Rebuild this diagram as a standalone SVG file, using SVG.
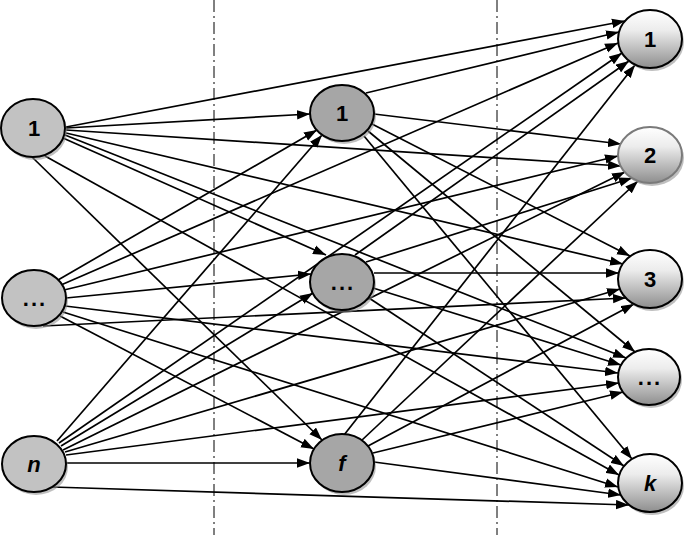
<svg xmlns="http://www.w3.org/2000/svg" width="687" height="535" viewBox="0 0 687 535">
<style>
.guide{stroke:#000;stroke-width:1;stroke-dasharray:12 4 2 4;fill:none}
.edge{stroke:#000;stroke-width:1.7;fill:none;marker-end:url(#ah)}
.sh{fill:#8a8a8a;opacity:0.55}
.in{fill:#c2c2c2;stroke:#000;stroke-width:2}
.hid{fill:#a6a6a6;stroke:#000;stroke-width:2}
.out{fill:url(#og);stroke:#000;stroke-width:2}
.lbl{font-family:"Liberation Sans",Arial,sans-serif;font-weight:bold;font-size:22px;text-anchor:middle;fill:#000}
.dots{letter-spacing:2px}
.it{font-style:italic}
</style>
<defs>
<marker id="ah" markerUnits="userSpaceOnUse" markerWidth="14" markerHeight="10" refX="13" refY="5" orient="auto">
<path d="M0,0.3 L13,5 L0,9.7 z" fill="#000"/>
</marker>
<linearGradient id="og" x1="0" y1="0" x2="0" y2="1">
<stop offset="0" stop-color="#ffffff"/>
<stop offset="0.35" stop-color="#ececec"/>
<stop offset="1" stop-color="#8e8e8e"/>
</linearGradient>
</defs>
<rect width="687" height="535" fill="#fff"/>
<g id="guides">
<line class="guide" x1="214" y1="0" x2="214" y2="535"/>
<line class="guide" x1="497" y1="0" x2="497" y2="535"/>
</g>
<g id="connectors">
<line class="edge" x1="66" y1="127" x2="625" y2="21"/>
<line class="edge" x1="66" y1="128" x2="310" y2="114"/>
<line class="edge" x1="66" y1="130" x2="621" y2="166"/>
<line class="edge" x1="66" y1="133" x2="623" y2="264"/>
<line class="edge" x1="65" y1="135" x2="626" y2="358"/>
<line class="edge" x1="63" y1="138" x2="326" y2="255"/>
<line class="edge" x1="45" y1="156" x2="619" y2="475"/>
<line class="edge" x1="32" y1="157" x2="322" y2="440"/>
<line class="edge" x1="58" y1="280" x2="317" y2="130"/>
<line class="edge" x1="61" y1="285" x2="618" y2="43"/>
<line class="edge" x1="64" y1="290" x2="618" y2="156"/>
<line class="edge" x1="66" y1="298" x2="311" y2="274"/>
<line class="edge" x1="65" y1="306" x2="618" y2="373"/>
<line class="edge" x1="63" y1="312" x2="618" y2="487"/>
<line class="edge" x1="60" y1="316" x2="314" y2="449"/>
<line class="edge" x1="43" y1="326" x2="626" y2="298"/>
<line class="edge" x1="57" y1="441" x2="322" y2="135"/>
<line class="edge" x1="59" y1="443" x2="622" y2="53"/>
<line class="edge" x1="61" y1="446" x2="313" y2="293"/>
<line class="edge" x1="63" y1="450" x2="625" y2="172"/>
<line class="edge" x1="65" y1="452" x2="620" y2="289"/>
<line class="edge" x1="66" y1="455" x2="619" y2="383"/>
<line class="edge" x1="66" y1="463" x2="310" y2="463"/>
<line class="edge" x1="52" y1="487" x2="629" y2="505"/>
<line class="edge" x1="366" y1="93" x2="619" y2="32"/>
<line class="edge" x1="374" y1="114" x2="621" y2="144"/>
<line class="edge" x1="372" y1="124" x2="630" y2="256"/>
<line class="edge" x1="368" y1="131" x2="635" y2="352"/>
<line class="edge" x1="364" y1="136" x2="632" y2="459"/>
<line class="edge" x1="355" y1="255" x2="629" y2="61"/>
<line class="edge" x1="366" y1="262" x2="632" y2="178"/>
<line class="edge" x1="374" y1="273" x2="619" y2="273"/>
<line class="edge" x1="373" y1="288" x2="621" y2="365"/>
<line class="edge" x1="369" y1="298" x2="624" y2="466"/>
<line class="edge" x1="344" y1="435" x2="635" y2="65"/>
<line class="edge" x1="361" y1="441" x2="638" y2="181"/>
<line class="edge" x1="368" y1="446" x2="634" y2="304"/>
<line class="edge" x1="373" y1="453" x2="623" y2="392"/>
<line class="edge" x1="374" y1="462" x2="621" y2="495"/>
</g>
<g id="in1"><ellipse class="sh" cx="35" cy="131" rx="32" ry="29"/><ellipse class="in" cx="33" cy="128" rx="32" ry="29"/><text class="lbl" x="34" y="136">1</text></g>
<g id="in2"><ellipse class="sh" cx="36" cy="301" rx="32" ry="28"/><ellipse class="in" cx="34" cy="298" rx="32" ry="28"/><text class="lbl dots" x="35" y="306">...</text></g>
<g id="in3"><ellipse class="sh" cx="36" cy="467" rx="32" ry="28"/><ellipse class="in" cx="34" cy="464" rx="32" ry="28"/><text class="lbl it" x="34" y="472">n</text></g>
<g id="h1"><ellipse class="sh" cx="344" cy="116" rx="32" ry="28"/><ellipse class="hid" cx="342" cy="113" rx="32" ry="28"/><text class="lbl" x="342" y="121">1</text></g>
<g id="h2"><ellipse class="sh" cx="344" cy="285" rx="32" ry="28"/><ellipse class="hid" cx="342" cy="282" rx="32" ry="28"/><text class="lbl dots" x="343" y="290">...</text></g>
<g id="h3"><ellipse class="sh" cx="344" cy="466" rx="32" ry="29"/><ellipse class="hid" cx="342" cy="463" rx="32" ry="29"/><text class="lbl it" x="342" y="471">f</text></g>
<g id="o1"><ellipse class="sh" cx="652" cy="42" rx="32" ry="29"/><ellipse class="out" cx="650" cy="39" rx="32" ry="29"/><text class="lbl" x="650" y="47">1</text></g>
<g id="o2"><ellipse class="sh" cx="652" cy="158" rx="32" ry="28"/><ellipse class="out" cx="650" cy="155" rx="32" ry="28" style="stroke:#7a7a7a"/><text class="lbl" x="650" y="163">2</text></g>
<g id="o3"><ellipse class="sh" cx="652" cy="282" rx="32" ry="29"/><ellipse class="out" cx="650" cy="279" rx="32" ry="29"/><text class="lbl" x="650" y="287">3</text></g>
<g id="o4"><ellipse class="sh" cx="651" cy="380" rx="31" ry="28"/><ellipse class="out" cx="649" cy="377" rx="31" ry="28"/><text class="lbl dots" x="650" y="385">...</text></g>
<g id="o5"><ellipse class="sh" cx="652" cy="486" rx="32" ry="29"/><ellipse class="out" cx="650" cy="483" rx="32" ry="29"/><text class="lbl it" x="650" y="491">k</text></g>
</svg>
